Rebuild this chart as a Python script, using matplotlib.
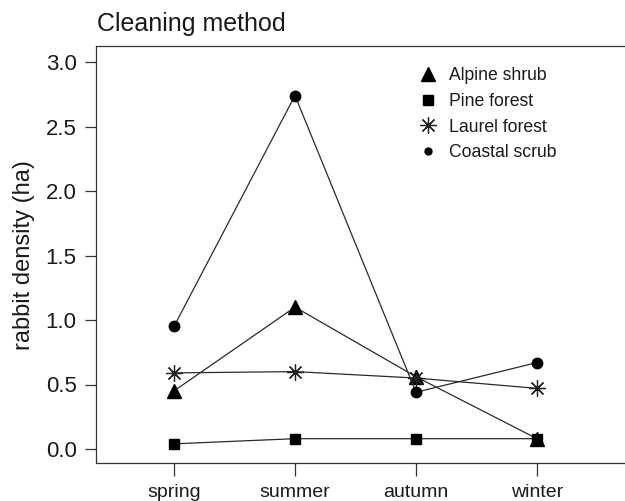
import matplotlib
matplotlib.use("Agg")
import matplotlib.pyplot as plt
from matplotlib.lines import Line2D

seasons = ["spring", "summer", "autumn", "winter"]
alpine_shrub = [0.45, 1.10, 0.56, 0.08]
pine_forest = [0.04, 0.08, 0.08, 0.08]
laurel_forest = [0.59, 0.60, 0.55, 0.47]
coastal_scrub = [0.95, 2.74, 0.44, 0.67]
yticks = [0.0, 0.5, 1.0, 1.5, 2.0, 2.5, 3.0]

plt.rcParams['font.family'] = ['Liberation Sans', 'DejaVu Sans']
fig = plt.figure(figsize=(6.25, 5.01), dpi=100)
W, H = 625, 501
left, right, top, bottom = 96, 660, 46, 463
ax = fig.add_axes([left / W, (H - bottom) / H, (right - left) / W, (bottom - top) / H])

x = list(range(1, len(seasons) + 1))
lc = '#2a2a2a'
ax.plot(x, alpine_shrub, color=lc, lw=0.9, marker='^', ms=10, mfc='black', mec='black')
ax.plot(x, pine_forest, color=lc, lw=0.9, marker='s', ms=7, mfc='black', mec='black')
ax.plot(x, laurel_forest, color=lc, lw=0.9, marker=(8, 2, 0), ms=12, mfc='none', mec='#222222', mew=0.9)
ax.plot(x, coastal_scrub, color=lc, lw=0.9, marker='o', ms=7.5, mfc='black', mec='black')

ax.set_xlim(1 - (174 - 96) / 121, 1 + (right - 174) / 121)
ax.set_ylim(-14 / 129, 3.0 + 16 / 129)
ax.set_xticks(x)
ax.set_xticklabels(seasons, fontsize=14, color='#1a1a1a')
ax.set_yticks(yticks)
ax.set_yticklabels([f"{v:.1f}" for v in yticks], fontsize=16, color='#1a1a1a')
ax.tick_params(axis='y', length=8, width=0.9, color='#333333', pad=6, direction='out')
ax.tick_params(axis='x', length=9, width=0.9, color='#333333', pad=6, direction='out')
for s in ax.spines.values():
    s.set_color('#333333')
    s.set_linewidth(0.9)
ax.spines['right'].set_visible(False)
fig.text(24 / W, 1 - 255 / H, "rabbit density (ha)", fontsize=17, rotation=90,
         ha='center', va='center', color='#1a1a1a')

fig.text(97 / W, 1 - 24 / H, "Cleaning method", fontsize=18, ha='left', va='center',
         color='#1a1a1a')

handles = [
    Line2D([], [], ls='none', marker='^', ms=10, mfc='black', mec='black'),
    Line2D([], [], ls='none', marker='s', ms=7, mfc='black', mec='black'),
    Line2D([], [], ls='none', marker=(8, 2, 0), ms=12, mfc='none', mec='#222222', mew=0.9),
    Line2D([], [], ls='none', marker='o', ms=5, mfc='black', mec='black'),
]
labels = ["Alpine shrub", "Pine forest", "Laurel forest", "Coastal scrub"]
leg = fig.legend(handles, labels, loc='upper left', bbox_to_anchor=(417 / W, 1 - 67 / H),
                 frameon=False, fontsize=12.7, handlelength=1.2, handletextpad=0.6,
                 labelspacing=0.5, borderaxespad=0, borderpad=0)
for t in leg.get_texts():
    t.set_color('#1a1a1a')

fig.savefig("out.png", dpi=100)
